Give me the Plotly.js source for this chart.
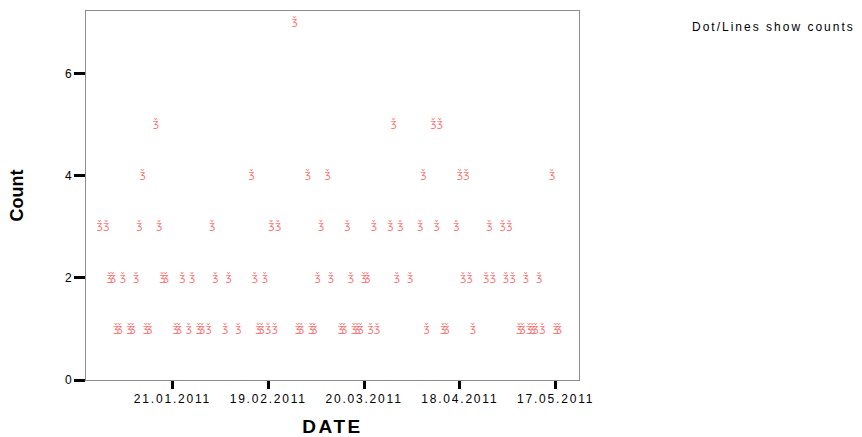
<!DOCTYPE html>
<html>
<head>
<meta charset="utf-8">
<script src="https://cdn.plot.ly/plotly-3.0.1.min.js"></script>
<style>
  body { margin: 0; background: #fff; }
  #chart { width: 862px; height: 437px; }
  .xtick text { letter-spacing: 1.8px; }
  .annotation-text { letter-spacing: 2px; }
  .xtitle { letter-spacing: 2.5px; }
</style>
</head>
<body>
<div id="chart"></div>
<script>
// Days with a count of 1..7
const datesCount1 = ['2011-01-04','2011-01-05','2011-01-08','2011-01-09','2011-01-13','2011-01-14',
  '2011-01-22','2011-01-23','2011-01-26','2011-01-29','2011-01-30','2011-02-01','2011-02-06',
  '2011-02-10','2011-02-16','2011-02-17','2011-02-19','2011-02-21','2011-02-28','2011-03-01',
  '2011-03-04','2011-03-05','2011-03-13','2011-03-14','2011-03-17','2011-03-18','2011-03-19',
  '2011-03-22','2011-03-24','2011-04-08','2011-04-13','2011-04-14','2011-04-22','2011-05-06',
  '2011-05-07','2011-05-09','2011-05-10','2011-05-11','2011-05-13','2011-05-17','2011-05-18'];
const datesCount2 = ['2011-01-02','2011-01-03','2011-01-06','2011-01-10','2011-01-18','2011-01-19',
  '2011-01-24','2011-01-27','2011-02-03','2011-02-07','2011-02-15','2011-02-18','2011-03-06',
  '2011-03-10','2011-03-16','2011-03-20','2011-03-21','2011-03-30','2011-04-03','2011-04-19',
  '2011-04-21','2011-04-26','2011-04-28','2011-05-02','2011-05-04','2011-05-08','2011-05-12'];
const datesCount3 = ['2010-12-30','2011-01-01','2011-01-11','2011-01-17','2011-02-02','2011-02-20',
  '2011-02-22','2011-03-07','2011-03-15','2011-03-23','2011-03-28','2011-03-31','2011-04-06',
  '2011-04-11','2011-04-17','2011-04-27','2011-05-01','2011-05-03'];
const datesCount4 = ['2011-01-12','2011-02-14','2011-03-03','2011-03-09','2011-04-07','2011-04-18',
  '2011-04-20','2011-05-16'];
const datesCount5 = ['2011-01-16','2011-03-29','2011-04-10','2011-04-12'];
const datesCount7 = ['2011-02-27'];

const tickDates = ['2011-01-21','2011-02-19','2011-03-20','2011-04-18','2011-05-17'];
const tickLabels = ['21.01.2011','19.02.2011','20.03.2011','18.04.2011','17.05.2011'];
const yTicks = [0, 2, 4, 6];

const groups = [[datesCount1,1],[datesCount2,2],[datesCount3,3],[datesCount4,4],[datesCount5,5],[datesCount7,7]];
const xs = [], ys = [];
groups.forEach(([d, c]) => d.forEach(v => { xs.push(v); ys.push(c); }));

const trace = {
  type: 'scatter',
  mode: 'text',
  x: xs,
  y: ys,
  text: xs.map(() => '\u01EF'),
  textposition: 'middle center',
  textfont: { family: 'DejaVu Sans', size: 11, color: 'rgba(255,80,80,0.8)' },
  hoverinfo: 'x+y',
  showlegend: false
};

const layout = {
  width: 862, height: 437,
  margin: { l: 86, r: 283, t: 11, b: 57 },
  paper_bgcolor: '#fff',
  plot_bgcolor: '#fff',
  font: { family: 'Liberation Sans, Arial, sans-serif', color: '#000' },
  xaxis: {
    type: 'date',
    range: ['2010-12-25 20:00', '2011-05-24 02:00'],
    tickvals: tickDates,
    ticktext: tickLabels,
    ticks: 'outside', ticklen: 8, tickwidth: 3, tickcolor: '#000',
    tickfont: { size: 12 },
    showgrid: false, zeroline: false,
    showline: true, linecolor: '#8c8c8c', linewidth: 1, mirror: true,
    title: { text: 'DATE', font: { size: 19, weight: 'bold' }, standoff: 14 }
  },
  yaxis: {
    range: [0, 7.22],
    tickvals: yTicks,
    ticktext: yTicks.map(String),
    ticks: 'outside', ticklen: 11, tickwidth: 3, tickcolor: '#000',
    tickfont: { size: 12 },
    showgrid: false, zeroline: false,
    showline: true, linecolor: '#8c8c8c', linewidth: 1, mirror: true,
    title: { text: 'Count', font: { size: 18, weight: 'bold' }, standoff: 36 }
  },
  annotations: [{
    xref: 'paper', yref: 'paper',
    x: 1.225, y: 0.957, xanchor: 'left', yanchor: 'middle',
    text: 'Dot/Lines show counts',
    showarrow: false,
    font: { size: 12, color: '#000' }
  }]
};

Plotly.newPlot('chart', [trace], layout, { displayModeBar: false, staticPlot: true });
</script>
</body>
</html>
